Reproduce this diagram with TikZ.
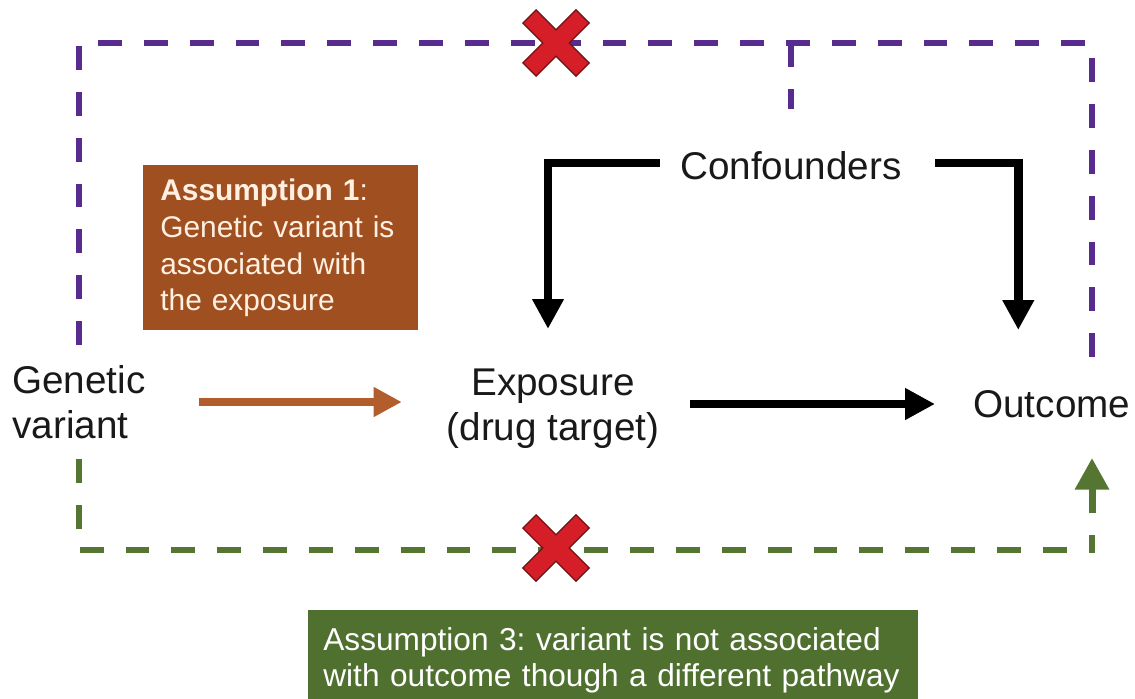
\documentclass[tikz,border=0pt]{standalone}
\usepackage{fontspec}
\setmainfont{Liberation Sans}
\usetikzlibrary{arrows.meta, positioning, calc}
\frenchspacing

\definecolor{pathpurple}{RGB}{88,44,142}
\definecolor{pathgreen}{RGB}{84,118,50}
\definecolor{notebrown}{RGB}{160,80,32}
\definecolor{arrowbrown}{RGB}{178,94,44}
\definecolor{notegreen}{RGB}{80,112,48}
\definecolor{crossred}{RGB}{214,30,40}
\definecolor{crossdark}{RGB}{110,20,20}
\definecolor{cream}{RGB}{255,240,226}

\begin{document}
\begin{tikzpicture}[x=0.2mm, y=-0.2mm, font=\fontsize{22}{25.5}\selectfont,
    flow/.style={line width=5pt, -{Triangle[length=17pt, width=17pt]}},
    altpath/.style={line width=3.4pt, dash pattern=on 13.6pt off 12.5pt},
    note/.style={anchor=north west, align=left}]
        \useasboundingbox (0,0) rectangle (1135,698);

        \node[anchor=west, align=left, inner sep=0, text=black!90] (gen) at (12,402) {Genetic\\variant};
        \node[align=center, inner sep=0, text=black!90] (expo) at (553,409) {Exposure\\(drug target)};
        \node[anchor=west, inner sep=0, text=black!90] (outc) at (973,404) {Outcome};
        \node[inner sep=0, text=black!90] (conf) at (791,166) {Confounders};

        \node[note, fill=notebrown, text=cream, minimum width=55mm, minimum height=33mm,
              text width=48.2mm, inner xsep=3.4mm, font=\fontsize{17}{21}\selectfont]
              (note1) at (143,165) {\textbf{Assumption 1}:\\Genetic variant is\\associated with\\the exposure};
        \node[note, fill=notegreen, text=white, minimum width=122mm, minimum height=20mm,
              text width=116mm, inner xsep=3mm, font=\fontsize{18}{20}\selectfont]
              (note3) at (308,610) {Assumption 3: variant is not associated\\with outcome though a different pathway};

        % causal arrows
        \draw[flow, arrowbrown, line width=4.5pt, -{Triangle[length=16pt, width=16pt]}]
              ([xshift=10.6mm]gen.east) -- ([xshift=-8.9mm]gen.east -| expo.west);
        \draw[flow] ([xshift=6mm]expo.east |- outc.west) -- ([xshift=-7.6mm]outc.west);
        \draw[flow] ([xshift=-4mm,yshift=0.6mm]conf.west) -| ([xshift=-1mm,yshift=8mm]expo.north);
        \draw[flow] ([xshift=6.6mm,yshift=0.6mm]conf.east) -| ([xshift=-6.7mm,yshift=12mm]outc.north);

        % other pathways
        \coordinate (pr) at (1092,43);
        \coordinate (pb) at (1092,550);
        \draw[altpath, pathpurple] ([yshift=4mm]gen.north) |- (pr) -- ($(pr |- outc.north)+(0,-25)$);
        \draw[altpath, pathpurple] (conf.north |- pr) -- ($(conf.north)+(0,-42)$);
        \draw[altpath, pathgreen] ([yshift=-4mm]gen.south) |- (pb) -- ($(pb)+(0,-15)$);
        \draw[pathgreen, line width=4pt, -{Triangle[length=18pt, width=18.7pt]}]
              ($(pb)+(0,-37)$) -- ($(pb |- outc.south)+(0,40)$);

        % crosses
        \coordinate (xtop) at (556,43);
        \coordinate (xbot) at (556,548);
        \foreach \c in {xtop,xbot} {
          \draw[crossdark, line width=11.4pt] ($(\c)+(-27,-27)$) -- ($(\c)+(27,27)$)
                ($(\c)+(-27,27)$) -- ($(\c)+(27,-27)$);
          \draw[crossred, line width=9.8pt] ($(\c)+(-26,-26)$) -- ($(\c)+(26,26)$)
                ($(\c)+(-26,26)$) -- ($(\c)+(26,-26)$);
        }
\end{tikzpicture}
\end{document}
